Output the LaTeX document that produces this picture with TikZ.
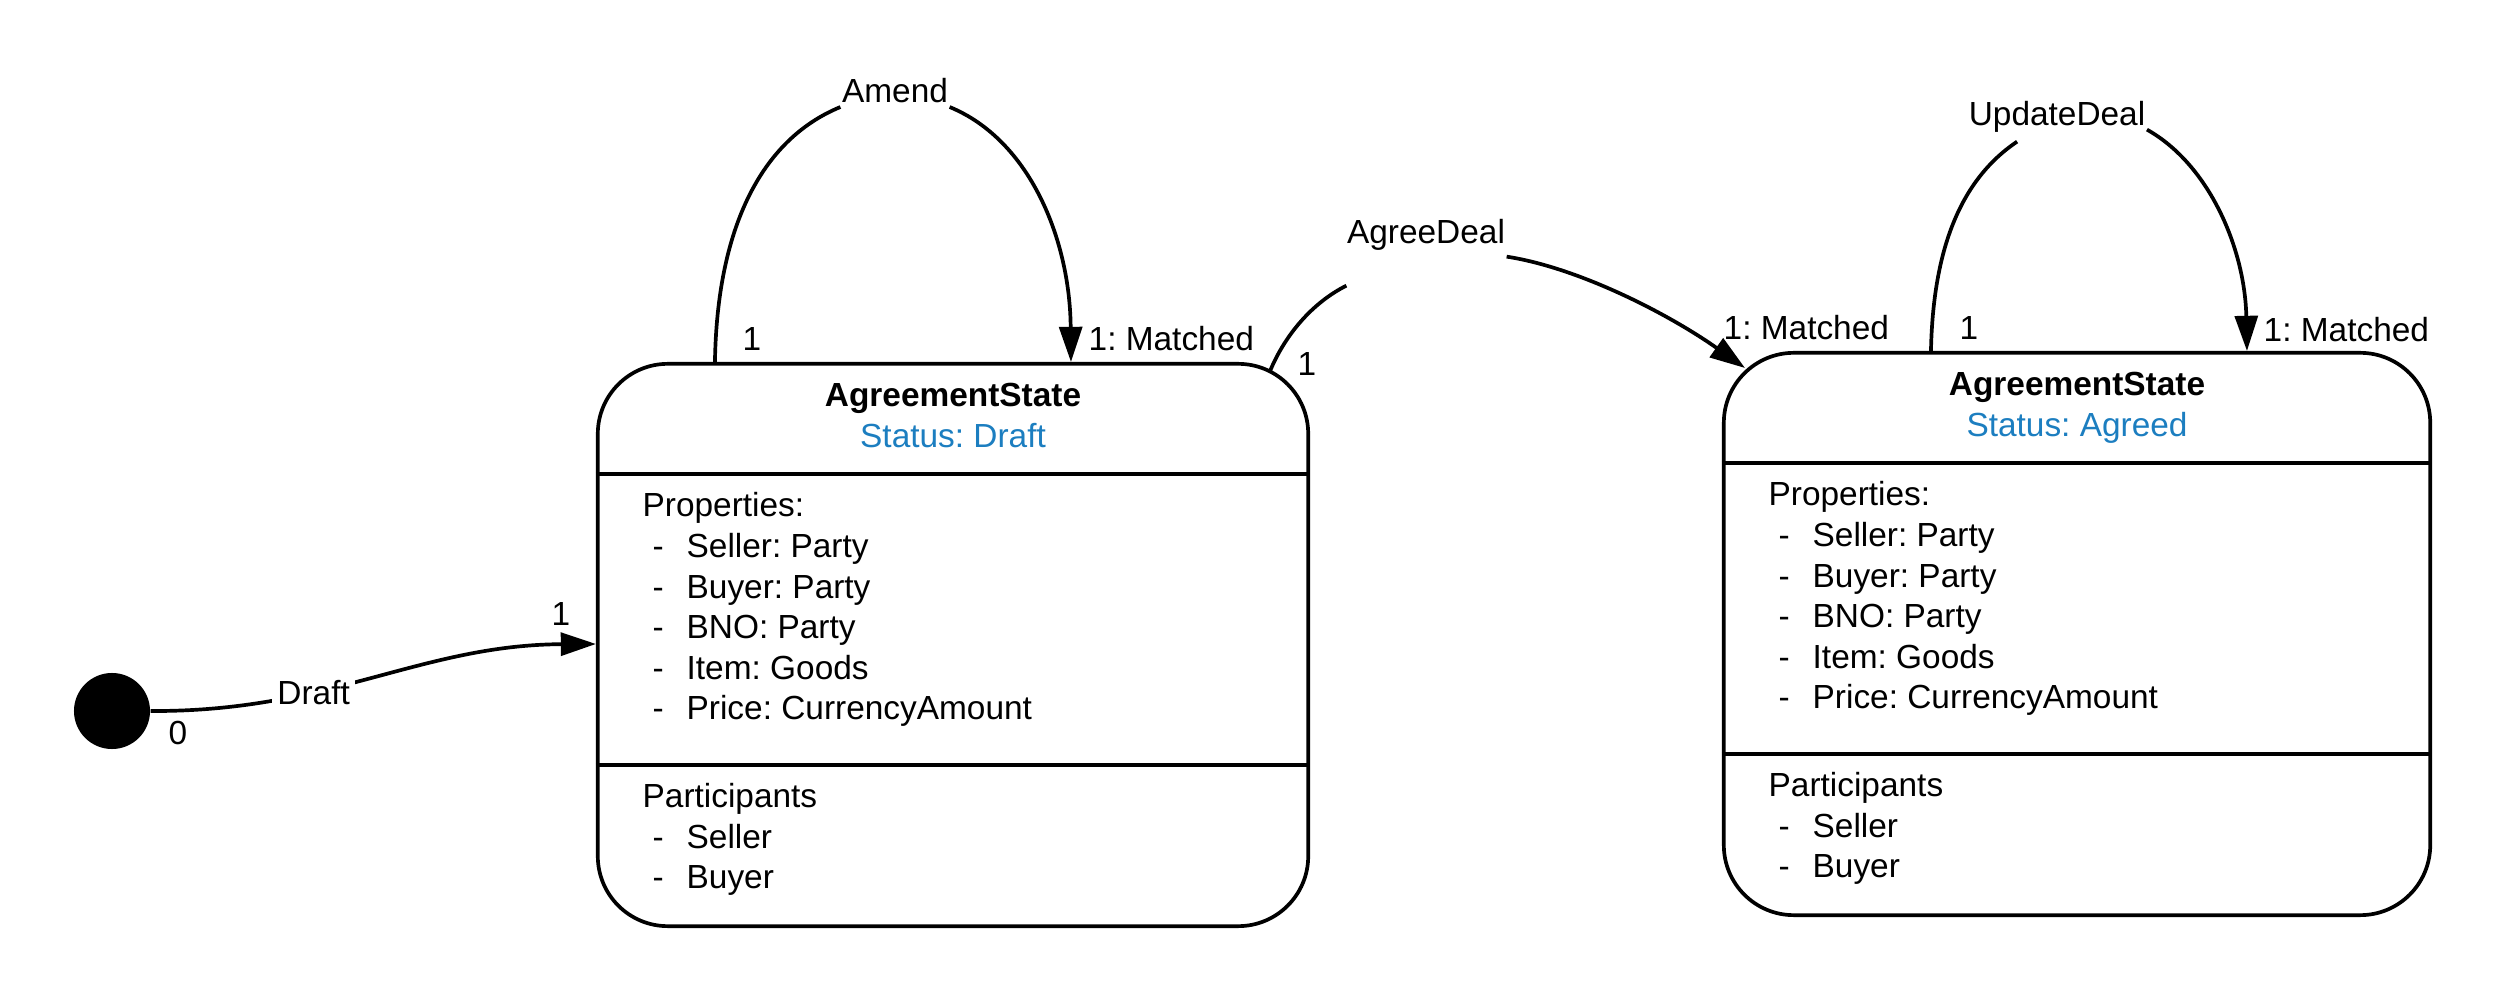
\documentclass[tikz,border=0pt]{standalone}
\usepackage{fontspec}
\setmainfont{Liberation Sans}
\usetikzlibrary{arrows.meta,calc}
\definecolor{statusblue}{RGB}{28,126,192}
\frenchspacing
\begin{document}
\begin{tikzpicture}[x=0.01cm,y=-0.01cm,
  txt/.style={font=\fontsize{9.5}{11.5}\selectfont, inner sep=0pt},
  statebox/.style={draw, line width=1.05pt, rounded corners=0.7cm, minimum height=5.62cm, inner sep=0pt},
  divider/.style={line width=1.35pt},
  conn/.style={line width=1.05pt},
  arr/.style={conn, -{Triangle[length=10pt,width=6.5pt]}},
  initstate/.style={circle, fill=black, minimum size=0.76cm, inner sep=0pt},
]
\useasboundingbox (0,0) rectangle (2507,1001);

% state boxes
\node[statebox, minimum width=7.10cm] (s1) at (953,645) {};
\node[statebox, minimum width=7.06cm] (s2) at (2077,634) {};
\node[initstate] (init) at (112,711) {};

% box contents
\node[txt, anchor=base] (t1) at ($(s1.north)+(0,45)$) {\bfseries AgreementState};
\node[txt, anchor=base, text=statusblue] (st1) at ($(s1.north)+(0,86)$) {Status: Draft};
\node[txt, anchor=base] (t2) at ($(s2.north)+(0,45)$) {\bfseries AgreementState};
\node[txt, anchor=base, text=statusblue] (st2) at ($(s2.north)+(0,86)$) {Status: Agreed};

\foreach \b in {s1,s2} {
  \draw[divider] ($(\b.north west)+(0,112)$) -- ($(\b.north east)+(0,112)$);
  \draw[divider] ($(\b.north west)+(0,403)$) -- ($(\b.north east)+(0,403)$);
  \node[txt, anchor=base west] (\b-prop) at ($(\b.north west)+(46,155)$) {Properties:};
  \foreach \t [count=\i] in {Seller: Party, Buyer: Party, BNO: Party, Item: Goods, Price: CurrencyAmount} {
    \node[txt, anchor=base west] (\b-pd\i) at ($(\b.north west)+(56,{155+40.6*\i})$) {-};
    \node[txt, anchor=base west] (\b-p\i) at ($(\b.north west)+(90,{155+40.6*\i})$) {\t};
  }
  \node[txt, anchor=base west] (\b-part) at ($(\b.north west)+(46,446)$) {Participants};
  \foreach \t [count=\i] in {Seller, Buyer} {
    \node[txt, anchor=base west] (\b-qd\i) at ($(\b.north west)+(56,{446+40.3*\i})$) {-};
    \node[txt, anchor=base west] (\b-q\i) at ($(\b.north west)+(90,{446+40.3*\i})$) {\t};
  }
}

% Draft transition
\draw[arr] (init.east) .. controls (330,712) and (420,645) .. ($(s1.north west)+(0,282)$)
  node[txt, pos=0.35, fill=white, inner sep=1.5pt] (draftlbl) {Draft};
\node[txt] (m0) at (178,733) {0};
\node[txt] (m1) at (561,614) {1};

% Amend self-loop
\node[txt, anchor=base] (amend) at (895,103) {Amend};
\coordinate (a1) at ($(s1.north west)+(119,0)$);
\coordinate (a2) at ($(s1.north west)+(475,0)$);
\coordinate (a1e) at ($(amend.south west)+(-1,3)$);
\coordinate (a2s) at ($(amend.south east)+(1,3)$);
\draw[conn] (a1) .. controls (717,230) and (760,140) .. (a1e);
\draw[arr] (a2s) .. controls (1030,140) and (1070,240) .. (a2);
\node[txt] (m2) at (752,339) {1};
\node[txt, anchor=west] (m3) at (1088,339) {1: Matched};

% AgreeDeal transition
\node[txt, anchor=base] (agree) at (1426,244) {AgreeDeal};
\coordinate (g0) at ($(s1.north east)+(-40,9)$);
\coordinate (g1) at ($(agree.south west)+(0,34)$);
\coordinate (g2) at ($(agree.south east)+(1,5)$);
\coordinate (g3) at ($(s2.north west)+(23,17)$);
\draw[conn] (g0) .. controls (1285,335) and (1312,303) .. (g1);
\draw[arr] (g2) .. controls (1580,268) and (1670,315) .. (g3);
\node[txt] (m4) at (1307,364) {1};
\node[txt, anchor=west] (m5) at (1723,328) {1: Matched};

% UpdateDeal self-loop
\node[txt, anchor=base] (upd) at (2057,126) {UpdateDeal};
\coordinate (u0) at ($(s2.north west)+(209,0)$);
\coordinate (u1) at ($(upd.south west)+(49,8)$);
\coordinate (u2) at ($(upd.south east)+(1,-4)$);
\coordinate (u3) at ($(s2.north west)+(525,0)$);
\draw[conn] (u0) .. controls (1933,250) and (1960,180) .. (u1);
\draw[arr] (u2) .. controls (2210,165) and (2245,250) .. (u3);
\node[txt] (m6) at (1969,328) {1};
\node[txt, anchor=west] (m7) at (2263,330) {1: Matched};
\end{tikzpicture}
\end{document}
